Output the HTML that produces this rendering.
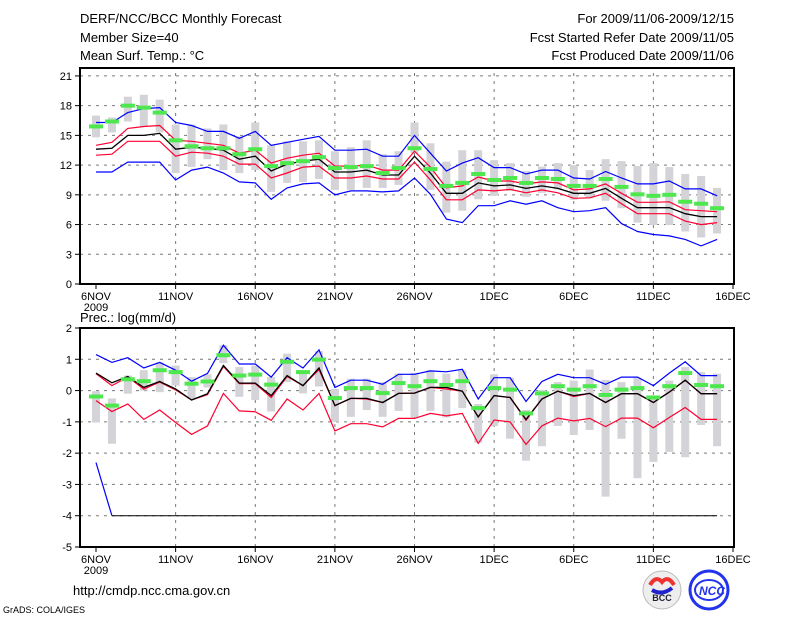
<!DOCTYPE html>
<html><head><meta charset="utf-8"><style>
body{margin:0;background:#fff;}
svg text{font-family:"Liberation Sans",sans-serif;fill:#000;}
</style></head><body>
<svg id="c" width="800" height="618" viewBox="0 0 800 618" xmlns="http://www.w3.org/2000/svg">
<text x="80" y="23" font-size="13">DERF/NCC/BCC Monthly Forecast</text>
<text x="80" y="42" font-size="13">Member Size=40</text>
<text x="80" y="60" font-size="13">Mean Surf. Temp.: °C</text>
<text x="734" y="23" font-size="13" text-anchor="end">For 2009/11/06-2009/12/15</text>
<text x="734" y="42" font-size="13" text-anchor="end">Fcst Started Refer Date 2009/11/05</text>
<text x="734" y="60" font-size="13" text-anchor="end">Fcst Produced Date 2009/11/06</text>
<text x="80" y="322" font-size="13">Prec.: log(mm/d)</text>
<text x="73" y="595" font-size="13">http://cmdp.ncc.cma.gov.cn</text>
<text x="3" y="613" font-size="9">GrADS: COLA/IGES</text>
<g>
<circle cx="662" cy="590" r="19" fill="#eee" stroke="#bbb"/>
<path d="M650 585 q6 -10 12 -3 q6 -7 12 3" fill="none" stroke="#e33" stroke-width="4"/>
<path d="M652 590 q10 6 20 -2" fill="none" stroke="#22c" stroke-width="4"/>
<text x="662" y="601" font-size="9" text-anchor="middle" font-weight="bold" style="fill:#223">BCC</text>
</g>
<g>
<circle cx="709" cy="590" r="19" fill="none" stroke="#23e" stroke-width="3"/>
<ellipse cx="709" cy="590" rx="14" ry="10" fill="none" stroke="#23e" stroke-width="2"/>
<text x="712" y="595" font-size="12" text-anchor="middle" font-weight="bold" font-style="italic" style="fill:#23e">NCC</text>
</g>
</svg>
<script>
const dayLabels=["6NOV","11NOV","16NOV","21NOV","26NOV","1DEC","6DEC","11DEC","16DEC"];
const tMean=[13.6,13.7,15.0,15.0,15.2,13.6,13.8,13.7,13.5,12.6,12.9,11.4,12.1,12.4,12.6,11.3,11.3,11.5,11.0,11.0,12.9,11.2,9.15,9.15,10.2,9.9,10.0,9.65,9.9,9.65,9.15,9.15,9.65,8.65,7.7,7.7,7.7,7.1,6.8,6.8];
const tRedHi=[14.0,14.3,15.7,15.9,16.0,14.5,14.4,14.2,14.0,13.2,13.5,12.2,12.7,13.0,13.2,11.9,11.9,12.0,11.5,11.5,13.4,11.8,9.7,9.9,10.8,10.4,10.4,10.1,10.3,10.2,9.5,9.6,10.1,9.15,8.25,8.25,8.3,7.5,7.4,7.3];
const tRedLo=[13.0,13.1,14.4,14.4,14.4,12.9,13.3,13.2,12.9,12.1,12.1,10.7,11.2,11.8,11.9,10.7,10.7,10.9,10.6,10.6,12.3,10.5,8.5,8.5,9.5,9.4,9.55,9.2,9.5,9.2,8.65,8.7,9.15,8.1,7.1,7.1,7.1,6.35,6.0,6.2];
const tBlueHi=[16.3,16.3,17.3,17.7,17.8,16.3,16.0,15.4,15.4,14.7,15.4,14.0,14.3,14.6,14.9,13.5,13.5,13.6,12.9,12.9,15.0,13.2,11.4,12.2,12.75,11.75,11.75,11.1,11.5,11.5,10.7,10.6,11.35,10.7,10.1,10.1,10.4,9.6,9.6,8.9];
const tBlueLo=[11.3,11.3,12.3,12.3,12.3,10.5,11.5,11.8,11.2,10.3,10.2,8.55,9.7,10.1,10.2,9.0,9.4,9.4,9.3,9.4,10.7,9.05,6.55,6.2,7.9,7.9,8.4,8.05,8.4,7.7,7.3,7.4,7.7,6.1,5.3,5.0,4.85,4.5,3.85,4.5];
const tObs=[15.9,16.4,18.0,17.8,17.3,14.5,13.9,13.7,13.7,13.1,13.6,11.9,12.2,12.4,12.8,11.7,11.8,11.9,11.2,11.7,13.7,11.6,9.9,10.2,11.1,10.5,10.7,10.2,10.7,10.6,9.9,9.9,10.6,9.8,9.05,8.9,9.0,8.3,8.1,7.65];
const tBoxHi=[17.0,16.8,18.9,19.1,18.6,16.1,16.1,15.7,16.1,14.9,16.3,14.0,14.4,14.4,14.5,13.4,13.8,14.5,13.1,13.4,16.3,14.2,12.35,13.5,13.5,12.5,12.2,11.4,11.85,12.2,12.0,11.5,12.6,12.4,11.9,12.2,11.8,11.1,10.9,9.7];
const tBoxLo=[14.8,15.3,16.4,15.9,15.3,11.2,11.8,12.6,11.5,11.2,11.5,9.3,10.2,10.3,10.6,9.5,9.5,9.7,9.7,10.0,13.2,9.5,7.2,7.4,8.55,8.9,9.4,8.8,9.2,9.55,8.5,8.65,8.4,7.65,6.2,5.95,5.95,5.3,4.7,5.1];
const pMean=[0.56,0.25,0.45,0.1,0.29,0.05,-0.3,-0.1,0.8,0.24,0.24,-0.16,0.48,0.16,0.72,-0.48,-0.25,-0.25,-0.38,-0.09,-0.08,0.1,0.1,-0.02,-0.84,-0.16,-0.22,-0.92,-0.27,-0.02,-0.16,-0.09,-0.38,-0.1,-0.1,-0.38,-0.05,0.33,-0.1,-0.1];
const pRedHi=[0.54,0.16,0.43,0.05,0.27,0.02,-0.3,-0.13,0.77,0.22,0.22,-0.22,0.45,0.16,0.67,-0.48,-0.25,-0.27,-0.38,-0.09,-0.08,0.1,0.05,-0.02,-0.84,-0.16,-0.22,-0.95,-0.27,-0.02,-0.19,-0.09,-0.38,-0.1,-0.1,-0.38,-0.05,0.33,-0.1,-0.1];
const pRedLo=[-0.32,-0.67,-0.43,-0.92,-0.62,-1.02,-1.4,-1.13,-0.09,-0.65,-0.68,-0.95,-0.27,-0.62,-0.09,-1.29,-1.06,-1.06,-1.16,-0.89,-0.89,-0.73,-0.81,-0.73,-1.69,-0.94,-1.0,-1.72,-1.13,-0.88,-0.97,-0.89,-1.15,-0.88,-0.88,-1.19,-0.86,-0.54,-0.92,-0.92];
const pBlueHi=[1.15,0.9,1.05,0.72,0.9,0.65,0.3,0.55,1.45,0.85,0.85,0.43,1.05,0.72,1.3,0.1,0.33,0.33,0.2,0.52,0.52,0.63,0.6,0.68,-0.27,0.41,0.41,-0.35,0.29,0.52,0.41,0.41,0.2,0.43,0.43,0.16,0.56,0.92,0.48,0.48];
const pBlueLo=[-2.3,-4,-4,-4,-4,-4,-4,-4,-4,-4,-4,-4,-4,-4,-4,-4,-4,-4,-4,-4,-4,-4,-4,-4,-4,-4,-4,-4,-4,-4,-4,-4,-4,-4,-4,-4,-4,-4,-4,-4];
const pObs=[-0.19,-0.48,0.36,0.3,0.65,0.59,0.22,0.29,1.13,0.48,0.51,0.19,0.92,0.59,0.99,-0.24,0.08,0.08,-0.08,0.24,0.14,0.3,0.18,0.3,-0.56,0.08,0.03,-0.73,-0.09,0.14,0.03,0.14,-0.14,0.03,0.08,-0.22,0.14,0.56,0.18,0.14];
const pBoxHi=[-0.02,-0.25,0.48,0.65,0.9,0.8,0.43,0.52,1.45,0.75,0.8,0.43,1.18,0.65,1.26,0.05,0.38,0.38,0.27,0.54,0.57,0.65,0.54,0.65,-0.43,0.52,0.41,-0.62,0.02,0.27,0.32,0.67,0.34,0.27,0.41,-0.16,0.32,0.75,0.59,0.54];
const pBoxLo=[-1.02,-1.7,-0.1,0.0,-0.05,0.16,-0.27,0.1,0.88,-0.2,-0.3,-0.67,0.27,-0.09,0.13,-1.0,-0.84,-0.62,-0.84,-0.65,-0.86,-0.65,-0.86,-0.56,-1.67,-1.13,-1.54,-2.24,-1.78,-1.13,-1.42,-1.26,-3.39,-1.54,-2.8,-2.28,-1.96,-2.13,-1.1,-1.78];
const tTicks=[0,3,6,9,12,15,18,21];
const pTicks=[-5,-4,-3,-2,-1,0,1,2];

const svg=document.getElementById('c');
const NS="http://www.w3.org/2000/svg";
const L=80,R=734;
function xOf(d){return 96+d*15.925;}
function mk(tag,attrs,parent){const e=document.createElementNS(NS,tag);for(const k in attrs)e.setAttribute(k,attrs[k]);(parent||svg).appendChild(e);return e;}

function panel(p){
  const g=mk('g',{});
  
  
  const yOf=v=>p.y0+(v-p.vmin)*(p.y1-p.y0)/(p.vmax-p.vmin);
  // grid
  p.ticks.forEach(t=>{
    if(t!==p.vmin&&t!==p.vmax){const gl=mk('line',{x1:L,x2:R,y1:yOf(t),y2:yOf(t),stroke:'#777','stroke-dasharray':'3,5','stroke-width':1},g);
    
    }
    const tl=mk('line',{x1:L-5,x2:L,y1:yOf(t),y2:yOf(t),stroke:'#000'},g);
    const tx=mk('text',{x:L-8,y:yOf(t)+4,'font-size':11,'text-anchor':'end'},g);tx.textContent=t;
    
    
  });
  dayLabels.forEach((lab,i)=>{
    const x=xOf(i*5);
    if(i>0&&i<8){const gl=mk('line',{x1:x,x2:x,y1:p.y0,y2:p.y1,stroke:'#777','stroke-dasharray':'3,5'},g);
    
    }
    mk('line',{x1:x,x2:x,y1:p.y0,y2:p.y0+5,stroke:'#000'},g);
    const tx=mk('text',{x:x,y:p.y0+16,'font-size':11,'text-anchor':'middle'},g);tx.textContent=lab;
    
    
  });
  const yr=mk('text',{x:xOf(0),y:p.y0+27,'font-size':11,'text-anchor':'middle'},g);yr.textContent='2009';
  
  
  // boxes
  p.boxHi.forEach((h,i)=>{
    const a=yOf(h),b=yOf(p.boxLo[i]);
    const r=mk('rect',{x:xOf(i)-4,y:Math.min(a,b),width:8,height:Math.abs(b-a),fill:'#d3d3d8'},g);
    
    
  });
  function line(arr,col,name,w){
    const pts=arr.map((v,i)=>xOf(i).toFixed(1)+','+yOf(v).toFixed(1)).join(' ');
    const pl=mk('polyline',{points:pts,fill:'none',stroke:col,'stroke-width':w||1.2},g);
    
    
  }
  p.lines.forEach(l=>line(l[0],l[1],l[2],l[3]));
  p.obs.forEach((v,i)=>{
    const r=mk('rect',{x:xOf(i)-7,y:yOf(v)-2,width:14,height:4,fill:'#4de84d'},g);
    
    
  });
  const fr=mk('rect',{x:L,y:p.y1,width:R-L,height:p.y0-p.y1,fill:'none',stroke:'#000','stroke-width':2},g);
  
  
  return yOf;
}
panel({name:'temperature-panel',y0:284,y1:68,vmin:0,vmax:21.8,ticks:tTicks,boxHi:tBoxHi,boxLo:tBoxLo,obs:tObs,
  lines:[[tBlueHi,'#0000ff','blue-upper-line'],[tBlueLo,'#0000ff','blue-lower-line'],[tRedHi,'#ff0030','red-upper-line'],[tRedLo,'#ff0030','red-lower-line'],[tMean,'#000','ensemble-mean-line',1.3]]});
const pBlack=pBlueLo.slice(1);
const yP=panel({name:'precip-panel',y0:547,y1:328,vmin:-5,vmax:2,ticks:pTicks,boxHi:pBoxHi,boxLo:pBoxLo,obs:pObs,
  lines:[[pBlueHi,'#0000ff','blue-upper-line'],[pRedLo,'#ff0030','red-lower-line'],[pRedHi,'#ff0030','red-upper-line'],[pMean,'#000','ensemble-mean-line',1.3]]});
// blue lower clipped segment + floor line
const seg=mk('polyline',{points:xOf(0)+','+yP(pBlueLo[0])+' '+xOf(1)+','+yP(pBlueLo[1]),fill:'none',stroke:'#0000ff','stroke-width':1.2});


const fl=mk('polyline',{points:pBlack.map((v,i)=>xOf(i+1)+','+yP(v)).join(' '),fill:'none',stroke:'#000','stroke-width':1});


</script>
</body></html>
